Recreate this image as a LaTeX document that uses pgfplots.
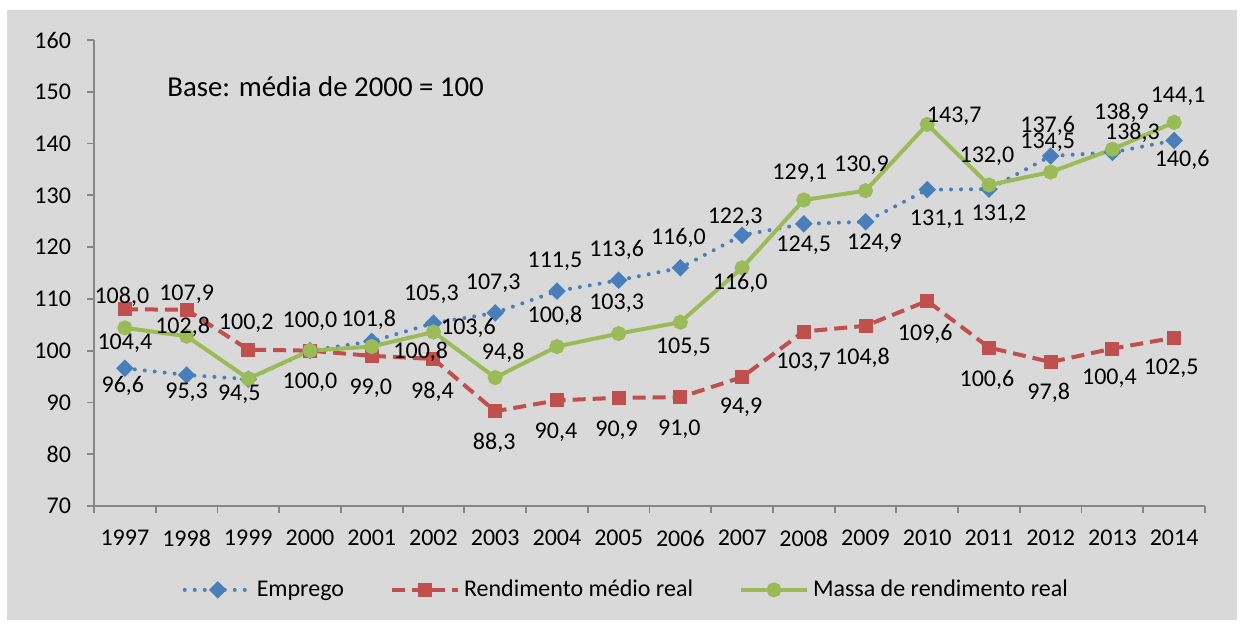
\documentclass[border=0pt]{standalone}
\usepackage{pgfplots}
\pgfplotsset{compat=1.18}
\usepackage{pgfplotstable}
\usepackage{fontspec}
\setmainfont{Carlito}
\definecolor{bgc}{HTML}{D9D9D9}
\definecolor{axc}{HTML}{868686}
\definecolor{cblue}{HTML}{4A7EBB}
\definecolor{cred}{HTML}{C0504D}
\definecolor{cgreen}{HTML}{9BBB59}

% x: category index, y: value, lab: label, dx/dy: label offset (pt)
\pgfplotstableread{
x y lab dx dy
0 96.6 96,6 -1 -9
1 95.3 95,3 0 -8.5
2 94.5 94,5 -4.5 -7.5
3 100.0 100,0 0 -16
4 101.8 101,8 -1.5 11
5 105.3 105,3 -1 14.5
6 107.3 107,3 -1 15
7 111.5 111,5 -1 15
8 113.6 113,6 -1 15
9 116.0 116,0 -1 15
10 122.3 122,3 -3.5 9
11 124.5 124,5 0 -10.5
12 124.9 124,9 4.5 -10.5
13 131.1 131,1 5 -15
14 131.2 131,2 5 -12.5
15 137.6 137,6 -1.5 15
16 138.3 138,3 10 10
17 140.6 140,6 4 -9.5
}\emprego

\pgfplotstableread{
x y lab dx dy
0 108.0 108,0 -1.5 6
1 107.9 107,9 0 8
2 100.2 100,2 -1 13
3 100.0 100,0 0 14.5
4 99.0 99,0 -0.5 -16
5 98.4 98,4 -0.5 -16.5
6 88.3 88,3 -0.5 -16
7 90.4 90,4 -0.5 -16
8 90.9 90,9 -1 -16
9 91.0 91,0 -0.5 -16
10 94.9 94,9 -0.5 -15
11 103.7 103,7 0 -15.5
12 104.8 104,8 -1.5 -16
13 109.6 109,6 -1 -16.5
14 100.6 100,6 -1 -16
15 97.8 97,8 -1 -15.5
16 100.4 100,4 -1.5 -15
17 102.5 102,5 -1.5 -15.5
}\rendimento

\pgfplotstableread{
x y lab dx dy
0 104.4 104,4 0 -7.5
1 102.8 102,8 -2 4.5
2 94.6 {} 0 0
3 100.0 {} 0 0
4 100.8 100,8 24.5 -2.5
5 103.6 103,6 17.5 2
6 94.8 94,8 4 12.5
7 100.8 100,8 -1 15.5
8 103.3 103,3 -1 15
9 105.5 105,5 1.5 -12.5
10 116.0 116,0 -1 -7.5
11 129.1 129,1 -2 13.5
12 130.9 130,9 -2 12.5
13 143.7 143,7 13.5 4
14 132.0 132,0 -1 14.5
15 134.5 134,5 -1.5 15
16 138.9 138,9 4.5 18
17 144.1 144,1 2 13
}\massa

\begin{document}
\begin{tikzpicture}[font=\fontsize{12}{14}\selectfont]
\useasboundingbox (0,0) rectangle (621pt,314pt);
\fill[bgc] (3.5pt,4pt) rectangle (618.5pt,309pt);
\begin{axis}[
  at={(47pt,61pt)}, anchor=south west,
  scale only axis, width=555.5pt, height=233pt,
  clip=false,
  xmin=-0.5, xmax=17.5, ymin=70, ymax=160,
  axis x line*=bottom, axis y line*=left,
  axis line style={draw=axc, line width=0.9pt},
  tick style={draw=axc, line width=0.9pt},
  tick align=outside, major tick length=3.5pt,
  ytick={70,80,...,160},
  xtick={-0.5,0.5,...,17.5}, xticklabels={},
  extra x ticks={0,1,...,17},
  extra x tick labels={1997,1998,1999,2000,2001,2002,2003,2004,2005,2006,2007,2008,2009,2010,2011,2012,2013,2014},
  extra x tick style={major tick length=0pt},
  /pgf/number format/assume math mode=true,
  tick label style={font=\fontsize{12}{14}\selectfont, text=black},
  xticklabel style={yshift=-8.5pt},
  yticklabel style={xshift=-4.5pt},
  legend style={at={(0.48,-0.18)}, anchor=center, draw=none, fill=none,
    legend columns=3, font=\fontsize{12}{14}\selectfont,
    /tikz/every even column/.append style={column sep=21pt}},
  legend cell align=left,
  legend image code/.code={\draw[mark repeat=2,mark phase=2,#1] plot coordinates {(0pt,0pt) (16.5pt,0pt) (33pt,0pt)};},
  label nodes/.style={draw=none, mark=none, forget plot,
    point meta=explicit symbolic,
    visualization depends on={\thisrow{dx} \as \labdx},
    visualization depends on={\thisrow{dy} \as \labdy},
    nodes near coords,
    nodes near coords style={anchor=center, inner sep=0pt, text=black,
      font=\fontsize{12}{14}\selectfont, xshift=\labdx pt, yshift=\labdy pt}},
]
\addplot[cblue, line width=2pt, line cap=round, dash pattern=on 0pt off 5pt,
  mark=square*, mark size=2.1pt, mark options={solid, rotate=45, fill=cblue}]
  table[x=x, y=y] {\emprego};
\addlegendentry{Emprego}
\addplot[cred, line width=2pt, dash pattern=on 6.5pt off 3.5pt,
  mark=square*, mark size=2.5pt, mark options={solid, fill=cred}]
  table[x=x, y=y] {\rendimento};
\addlegendentry{Rendimento médio real}
\addplot[cgreen, line width=2pt,
  mark=*, mark size=2.75pt, mark options={solid, fill=cgreen}]
  table[x=x, y=y] {\massa};
\addlegendentry{Massa de rendimento real}

\addplot[label nodes] table[x=x, y=y, meta=lab] {\emprego};
\addplot[label nodes] table[x=x, y=y, meta=lab] {\rendimento};
\addplot[label nodes] table[x=x, y=y, meta=lab] {\massa};

\node[anchor=west, inner sep=0pt, font=\fontsize{14.4}{17}\selectfont, text=black] at (rel axis cs:0.0657,0.899) {Base: média de 2000 = 100};
\end{axis}
\end{tikzpicture}
\end{document}
